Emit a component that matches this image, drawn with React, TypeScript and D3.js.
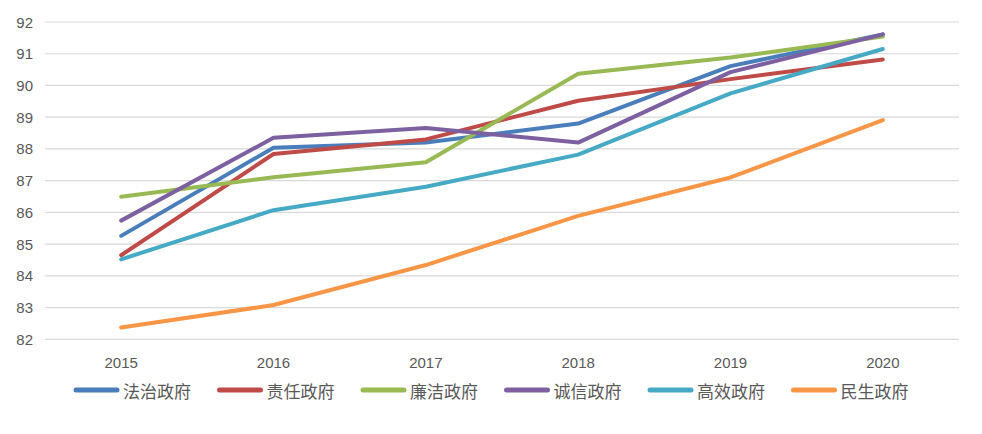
import * as React from "react";
import { scaleBand, scaleLinear, line } from "d3";

const years = ["2015", "2016", "2017", "2018", "2019", "2020"];
const seriesNames = ["法治政府", "责任政府", "廉洁政府", "诚信政府", "高效政府", "民生政府"];
const fazhi = [85.26, 88.04, 88.2, 88.8, 90.61, 91.61];
const zeren = [84.65, 87.84, 88.3, 89.52, 90.2, 90.82];
const lianjie = [86.49, 87.11, 87.58, 90.37, 90.88, 91.54];
const chengxin = [85.74, 88.35, 88.66, 88.2, 90.42, 91.61];
const gaoxiao = [84.52, 86.07, 86.81, 87.82, 89.75, 91.15];
const minsheng = [82.37, 83.08, 84.34, 85.89, 87.1, 88.91];
const yTicks = [82, 83, 84, 85, 86, 87, 88, 89, 90, 91, 92];
const colors = ["#4A7EBB", "#BE4B48", "#98B954", "#7D60A0", "#46AAC5", "#F79646"];

const allSeries = [fazhi, zeren, lianjie, chengxin, gaoxiao, minsheng];

export default function App() {
  const width = 982;
  const height = 434;

  // plot area
  const xScale = scaleBand().domain(years).range([45, 959]).padding(0);
  const yScale = scaleLinear().domain([82, 92]).range([339.3, 22]);
  const cx = (y: string) => (xScale(y) as number) + xScale.bandwidth() / 2;

  const path = line<number>()
    .x((_, i) => cx(years[i]))
    .y((d) => yScale(d));

  const textColor = "#595959";
  const numFont = "'Liberation Sans', Arial, sans-serif";
  const cjkFont = "'Noto Sans CJK SC', 'Liberation Sans', sans-serif";

  // legend
  const legendX = scaleLinear().domain([0, 1]).range([74, 217.5]);
  const legendY = 390;

  return (
    <svg
      width={width}
      height={height}
      style={{ position: "absolute", left: 0, top: 0, background: "#fff" }}
    >
      {/* grid */}
      {yTicks.map((t) => (
        <g key={t}>
          <line x1={45} x2={959} y1={yScale(t)} y2={yScale(t)} stroke="#D9D9D9" strokeWidth={1.2} />
          <text
            x={33}
            y={yScale(t)}
            textAnchor="end"
            dominantBaseline="central"
            fontFamily={numFont}
            fontSize={15}
            fill={textColor}
          >
            {t}
          </text>
        </g>
      ))}

      {/* x labels */}
      {years.map((y) => (
        <text
          key={y}
          x={cx(y)}
          y={368}
          textAnchor="middle"
          fontFamily={numFont}
          fontSize={15}
          fill={textColor}
        >
          {y}
        </text>
      ))}

      {/* lines */}
      {allSeries.map((s, i) => (
        <path
          key={seriesNames[i]}
          d={path(s) || ""}
          fill="none"
          stroke={colors[i]}
          strokeWidth={4}
          strokeLinejoin="round"
          strokeLinecap="round"
        />
      ))}

      {/* legend */}
      {seriesNames.map((name, i) => {
        const lx = legendX(i);
        return (
          <g key={name}>
            <line
              x1={lx + 2}
              x2={lx + 43}
              y1={legendY}
              y2={legendY}
              stroke={colors[i]}
              strokeWidth={5}
              strokeLinecap="round"
            />
            <text
              x={lx + 49}
              y={legendY}
              dominantBaseline="central"
              fontFamily={cjkFont}
              fontSize={17}
              fill={textColor}
            >
              {name}
            </text>
          </g>
        );
      })}
    </svg>
  );
}
